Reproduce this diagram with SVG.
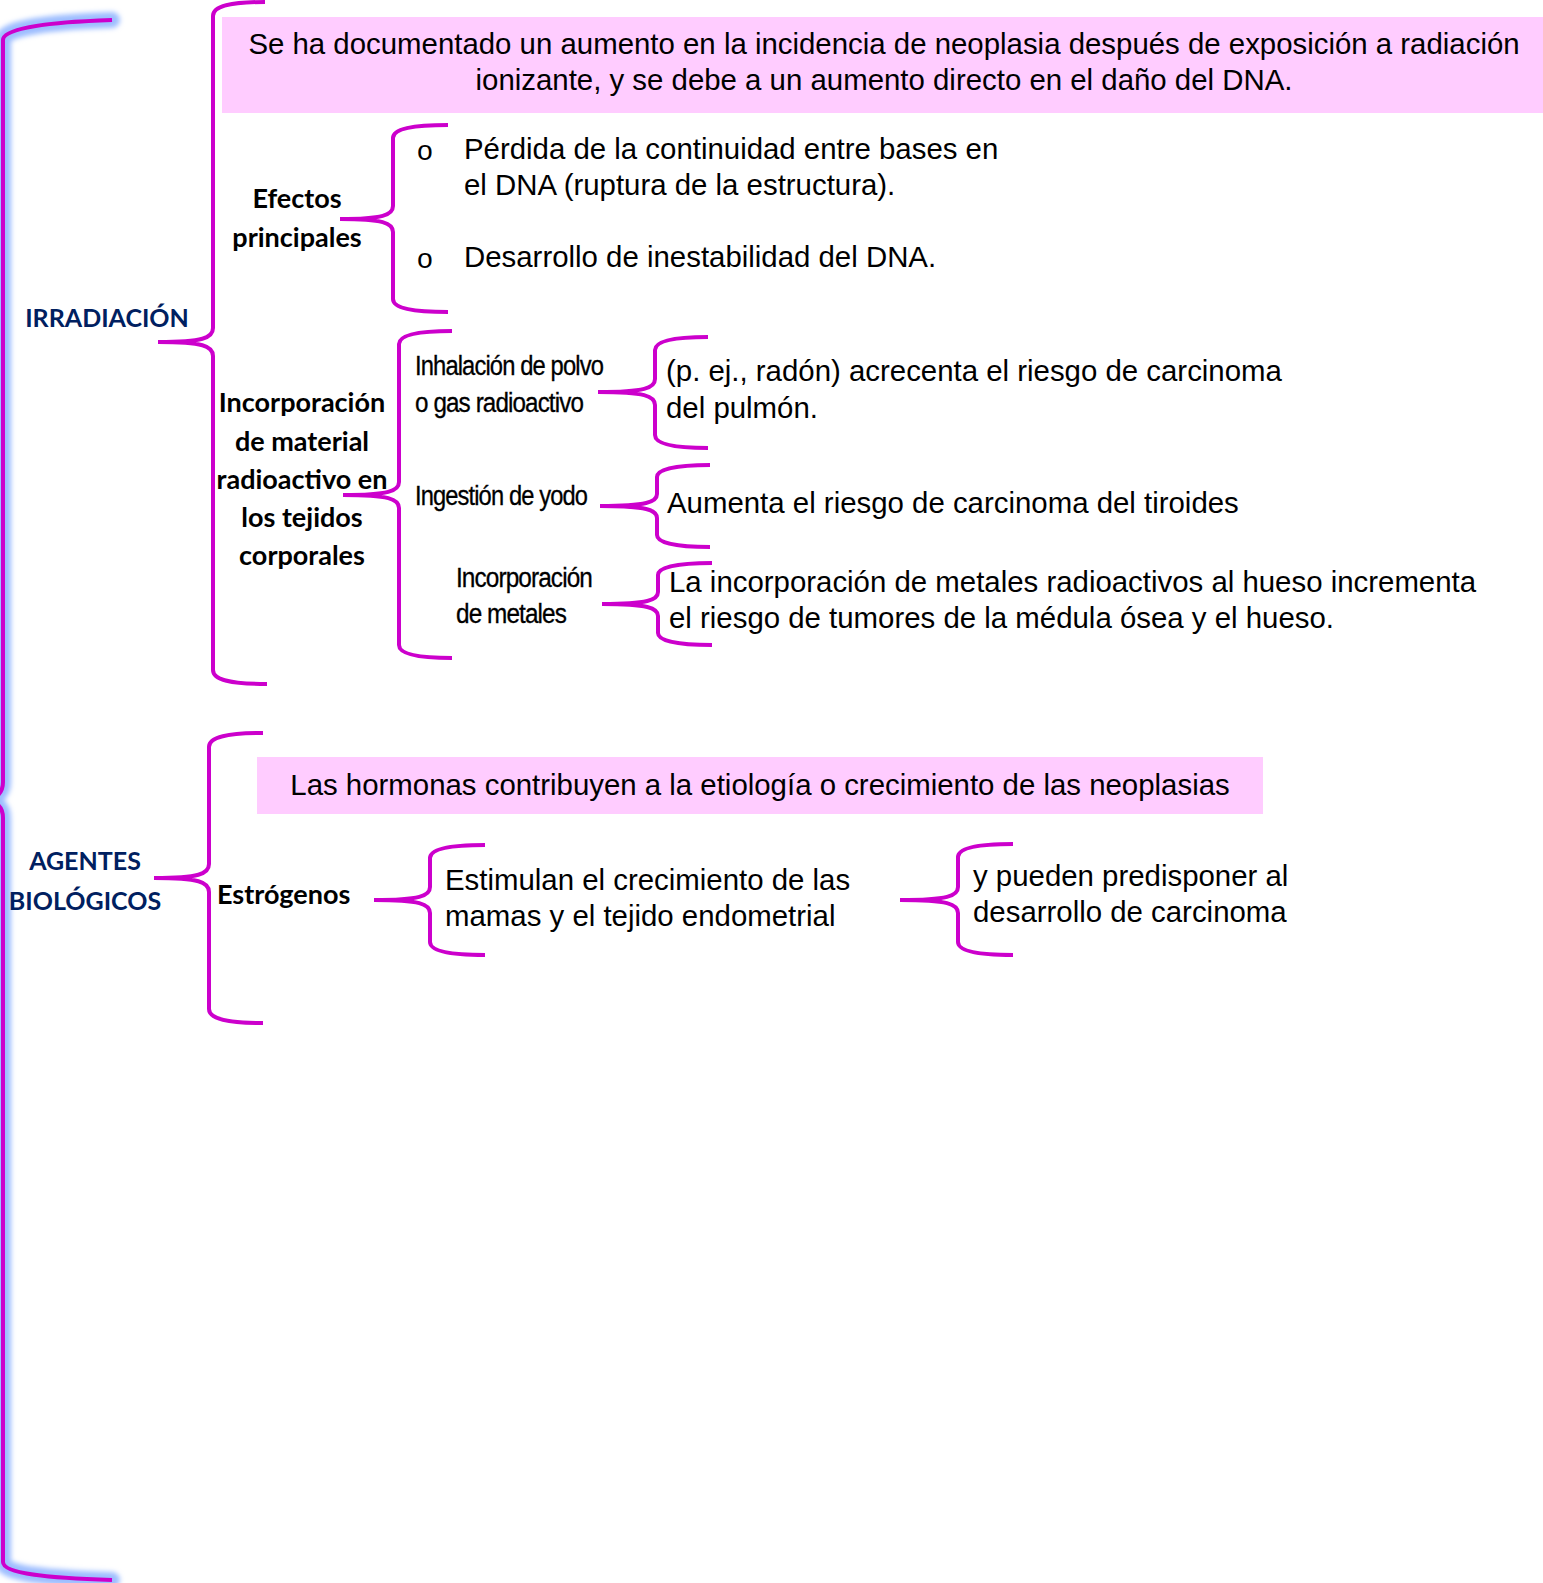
<svg xmlns="http://www.w3.org/2000/svg" width="1543" height="1583" viewBox="0 0 1543 1583">
<defs>
<filter id="glow" x="-50%" y="-5%" width="200%" height="110%">
<feGaussianBlur stdDeviation="2.5"/>
</filter>
<style>
.br{fill:none;stroke:#CC00CC;stroke-width:4;stroke-linecap:butt}
.glow{fill:none;stroke:#9DBDFF;stroke-width:16;stroke-linecap:round;filter:url(#glow)}
.box{fill:#FFCCFF}
.body{font-family:"Liberation Sans",Arial,sans-serif;font-size:29.4px;fill:#000}
.lbl{font-family:Lato,"Liberation Sans",sans-serif;font-weight:bold;font-size:27px;fill:#000}
.nav{font-family:Lato,"Liberation Sans",sans-serif;font-weight:bold;font-size:25px;fill:#002060}
.cnd{font-family:"Liberation Sans Narrow","Liberation Sans",sans-serif;font-size:27px;fill:#000;stroke:#000;stroke-width:0.3;letter-spacing:-1px}
.bul{font-family:"Liberation Mono","Courier New",monospace;font-size:28px;fill:#000}
</style>
</defs>
<rect width="1543" height="1583" fill="#FFFFFF"/>

<g id="connectors">
<path class="glow" d="M112,20 C50,22 3,28 3,40 L3,782 C3,794 -5,800 -20,800 C-5,800 3,806 3,818 L3,1562 C3,1574 50,1578 112,1580"/>
<path class="br" d="M112,20 C50,22 3,28 3,40 L3,782 C3,794 -5,800 -20,800 C-5,800 3,806 3,818 L3,1562 C3,1574 50,1578 112,1580"/>
<path class="br" d="M265,2 C231,2 213,6 213,16 L213,328 C213,338 203,342 158,342 C203,342 213,346 213,356 L213,670 C213,680 231,684 267,684"/>
<path class="br" d="M448,125 C412,125 393,129 393,138 L393,206 C393,215 383,219 340,219 C383,219 393,223 393,232 L393,299 C393,308 412,312 448,312"/>
<path class="br" d="M452,331 C418,331 399,335 399,344 L399,482 C399,491 389,495 343,495 C389,495 399,499 399,508 L399,645 C399,654 418,658 452,658"/>
<path class="br" d="M708,337 C674,337 655,341 655,350 L655,379 C655,388 645,392 598,392 C645,392 655,396 655,405 L655,435 C655,444 674,448 708,448"/>
<path class="br" d="M710,465 C676,465 657,469 657,477 L657,494 C657,502 647,506 600,506 C647,506 657,510 657,518 L657,535 C657,543 676,547 710,547"/>
<path class="br" d="M712,563 C677,563 658,567 658,575 L658,592 C658,600 648,604 602,604 C648,604 658,608 658,616 L658,633 C658,641 677,645 712,645"/>
<path class="br" d="M263,733 C228,733 209,737 209,747 L209,864 C209,874 199,878 154,878 C199,878 209,882 209,892 L209,1009 C209,1019 228,1023 263,1023"/>
<path class="br" d="M485,845 C450,845 430,849 430,858 L430,887 C430,896 420,900 374,900 C420,900 430,904 430,913 L430,942 C430,951 450,955 485,955"/>
<path class="br" d="M1013,844 C978,844 958,848 958,857 L958,887 C958,896 948,900 900,900 C948,900 958,904 958,913 L958,942 C958,951 978,955 1013,955"/>
</g>

<g id="irradiacion">
<text class="nav" x="107" y="327" text-anchor="middle">IRRADIACIÓN</text>
</g>

<g id="agentes-biologicos">
<text class="nav" x="85" y="870" text-anchor="middle">AGENTES</text>
<text class="nav" x="85" y="910" text-anchor="middle">BIOLÓGICOS</text>
</g>

<g id="intro-irradiacion">
<rect class="box" x="222" y="17" width="1321" height="96"/>
<text class="body" x="884" y="54" text-anchor="middle">Se ha documentado un aumento en la incidencia de neoplasia después de exposición a radiación</text>
<text class="body" x="884" y="90" text-anchor="middle">ionizante, y se debe a un aumento directo en el daño del DNA.</text>
</g>

<g id="efectos-principales">
<text class="lbl" x="297" y="208" text-anchor="middle">Efectos</text>
<text class="lbl" x="297" y="247" text-anchor="middle">principales</text>
</g>

<g id="efectos-lista">
<text class="bul" x="425" y="160" text-anchor="middle">o</text>
<text class="body" x="464" y="159">Pérdida de la continuidad entre bases en</text>
<text class="body" x="464" y="195">el DNA (ruptura de la estructura).</text>
<text class="bul" x="425" y="268" text-anchor="middle">o</text>
<text class="body" x="464" y="267">Desarrollo de inestabilidad del DNA.</text>
</g>

<g id="incorporacion-material">
<text class="lbl" x="302" y="412" text-anchor="middle">Incorporación</text>
<text class="lbl" x="302" y="451" text-anchor="middle">de material</text>
<text class="lbl" x="302" y="489" text-anchor="middle">radioactivo en</text>
<text class="lbl" x="302" y="527" text-anchor="middle">los tejidos</text>
<text class="lbl" x="302" y="565" text-anchor="middle">corporales</text>
</g>

<g id="inhalacion">
<text class="cnd" x="415" y="375" textLength="188" lengthAdjust="spacingAndGlyphs">Inhalación de polvo</text>
<text class="cnd" x="415" y="412" textLength="168" lengthAdjust="spacingAndGlyphs">o gas radioactivo</text>
</g>

<g id="inhalacion-efecto">
<text class="body" x="666" y="381">(p. ej., radón) acrecenta el riesgo de carcinoma</text>
<text class="body" x="666" y="418">del pulmón.</text>
</g>

<g id="ingestion-yodo">
<text class="cnd" x="415" y="505" textLength="172" lengthAdjust="spacingAndGlyphs">Ingestión de yodo</text>
</g>

<g id="ingestion-efecto">
<text class="body" x="667" y="513">Aumenta el riesgo de carcinoma del tiroides</text>
</g>

<g id="incorporacion-metales">
<text class="cnd" x="456" y="587" textLength="136" lengthAdjust="spacingAndGlyphs">Incorporación</text>
<text class="cnd" x="456" y="623" textLength="110" lengthAdjust="spacingAndGlyphs">de metales</text>
</g>

<g id="metales-efecto">
<text class="body" x="669" y="592">La incorporación de metales radioactivos al hueso incrementa</text>
<text class="body" x="669" y="628">el riesgo de tumores de la médula ósea y el hueso.</text>
</g>

<g id="intro-hormonas">
<rect class="box" x="257" y="757" width="1006" height="57"/>
<text class="body" x="760" y="795" text-anchor="middle">Las hormonas contribuyen a la etiología o crecimiento de las neoplasias</text>
</g>

<g id="estrogenos">
<text class="lbl" x="217" y="904">Estrógenos</text>
</g>

<g id="estrogenos-efecto">
<text class="body" x="445" y="890">Estimulan el crecimiento de las</text>
<text class="body" x="445" y="926">mamas y el tejido endometrial</text>
</g>

<g id="estrogenos-riesgo">
<text class="body" x="973" y="886">y pueden predisponer al</text>
<text class="body" x="973" y="922">desarrollo de carcinoma</text>
</g>
</svg>
